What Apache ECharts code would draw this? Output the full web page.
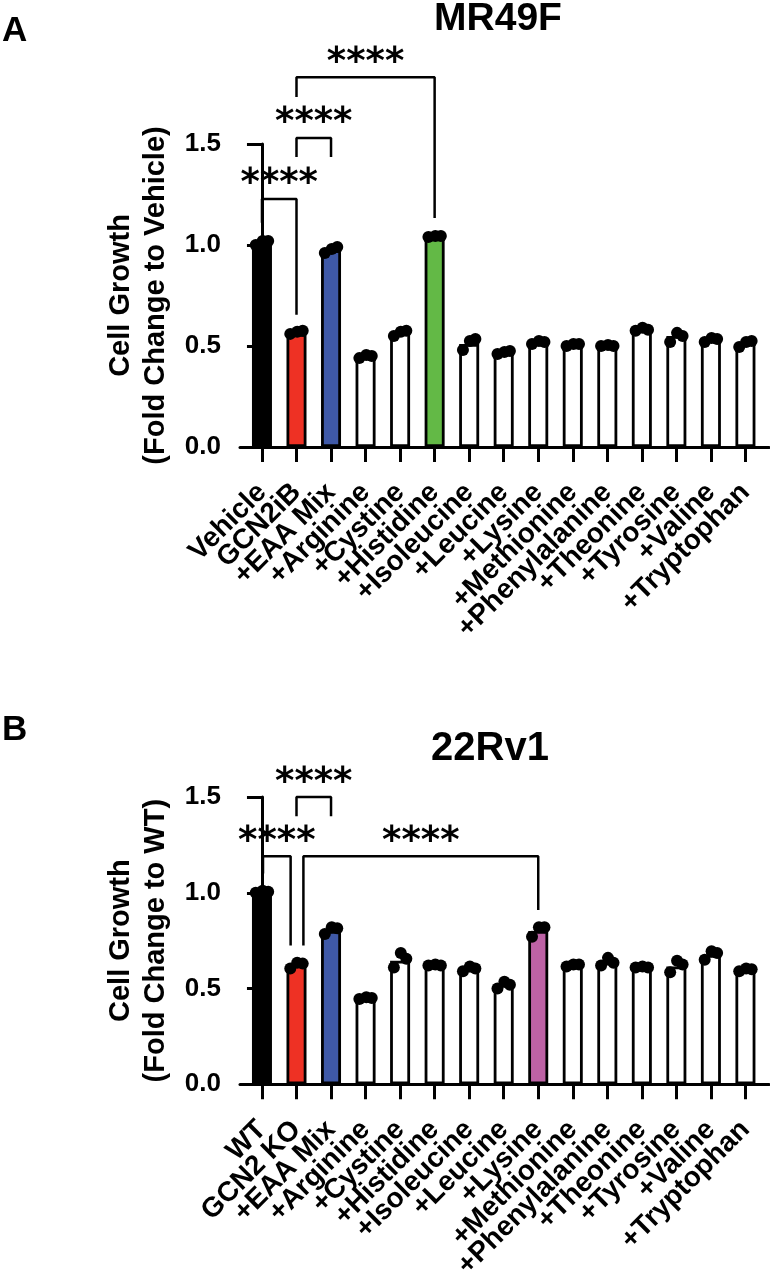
<!DOCTYPE html>
<html>
<head>
<meta charset="utf-8">
<script src="https://cdn.jsdelivr.net/npm/echarts@6/dist/echarts.min.js"></script>
<style>
html,body{margin:0;padding:0;background:#fff;}
#chart{width:770px;height:1282px;}
</style>
</head>
<body>
<div id="chart"></div>
<script>
// ---------- DATA ----------
var catsA = ['Vehicle','GCN2iB','+EAA Mix','+Arginine','+Cystine','+Histidine','+Isoleucine','+Leucine','+Lysine','+Methionine','+Phenylalanine','+Theonine','+Tyrosine','+Valine','+Tryptophan'];
var meansA = [1.00, 0.56, 0.975, 0.45, 0.565, 1.04, 0.51, 0.47, 0.52, 0.51, 0.50, 0.58, 0.55, 0.53, 0.515];
var repsA = [
  [1.00, 1.02, 1.02], [0.56, 0.57, 0.575], [0.96, 0.98, 0.99], [0.44, 0.455, 0.45],
  [0.55, 0.57, 0.575], [1.04, 1.045, 1.045], [0.48, 0.525, 0.535], [0.46, 0.47, 0.475],
  [0.51, 0.525, 0.52], [0.50, 0.51, 0.51], [0.50, 0.505, 0.50], [0.575, 0.59, 0.58],
  [0.52, 0.565, 0.55], [0.52, 0.54, 0.535], [0.495, 0.52, 0.525]
];
var colorsA = ['#000000','#EE3124','#3F59A7','#ffffff','#ffffff','#63B946','#ffffff','#ffffff','#ffffff','#ffffff','#ffffff','#ffffff','#ffffff','#ffffff','#ffffff'];
var bracketsA = [
  [[0, 1.11], [0, 1.228], [1, 1.228], [1, 0.655]],
  [[1, 1.436], [1, 1.53], [2, 1.53], [2, 1.436]],
  [[1, 1.733], [1, 1.83], [5, 1.83], [5, 1.134]]
];
var starsA = [[0.5, 1.33], [1.5, 1.63], [3, 1.93]];

var catsB = ['WT','GCN2 KO','+EAA Mix','+Arginine','+Cystine','+Histidine','+Isoleucine','+Leucine','+Lysine','+Methionine','+Phenylalanine','+Theonine','+Tyrosine','+Valine','+Tryptophan'];
var meansB = [1.00, 0.625, 0.80, 0.45, 0.645, 0.62, 0.60, 0.52, 0.80, 0.62, 0.635, 0.61, 0.615, 0.675, 0.60];
var repsB = [
  [1.00, 1.01, 1.005], [0.605, 0.635, 0.63], [0.785, 0.82, 0.815], [0.445, 0.455, 0.45],
  [0.61, 0.685, 0.655], [0.62, 0.625, 0.62], [0.59, 0.615, 0.605], [0.50, 0.535, 0.52],
  [0.77, 0.82, 0.82], [0.615, 0.625, 0.625], [0.62, 0.66, 0.635], [0.61, 0.615, 0.61],
  [0.585, 0.645, 0.625], [0.65, 0.695, 0.685], [0.59, 0.605, 0.60]
];
var colorsB = ['#000000','#EE3124','#3F59A7','#ffffff','#ffffff','#ffffff','#ffffff','#ffffff','#BD62A5','#ffffff','#ffffff','#ffffff','#ffffff','#ffffff','#ffffff'];
var bracketsB = [
  [[0.03, 1.10], [0.03, 1.19], [0.83, 1.19], [0.83, 0.725]],
  [[1.2, 0.725], [1.2, 1.19], [8, 1.19], [8, 0.91]],
  [[1, 1.40], [1, 1.50], [2, 1.50], [2, 1.40]]
];
var starsB = [[0.43, 1.295], [4.6, 1.295], [1.5, 1.60]];

var yTicks = [0, 0.5, 1.0, 1.5];

// ---------- STYLE ----------
var FONT = 'Liberation Sans, Arial, Helvetica, sans-serif';
var STARFONT = 'DejaVu Sans, Liberation Sans, sans-serif';
var jitter = [-0.18, 0.02, 0.18];
var idx = catsA.map(function (_, i) { return i; });
// padding values at both ends (empty labels) so the library's min/max label check never drops a real label
var labelVals = [-0.6].concat(idx).concat([14.65]);

function xAxisFor(gridIndex, cats) {
  return {
    type: 'value', gridIndex: gridIndex, min: -0.636, max: 14.68,
    splitLine: { show: false },
    axisLine: { show: true, lineStyle: { color: '#000', width: 3 } },
    axisTick: { show: true, customValues: idx, length: 15, lineStyle: { color: '#000', width: 3 } },
    axisLabel: {
      show: true, customValues: labelVals, rotate: 45, margin: 41,
      fontFamily: FONT, fontWeight: 'bold', fontSize: 28, lineHeight: 18, color: '#000',
      formatter: function (v) {
        var r = Math.round(v);
        return Math.abs(v - r) < 1e-6 && cats[r] ? cats[r] : '';
      }
    }
  };
}
function yAxisFor(gridIndex, name) {
  return {
    type: 'value', gridIndex: gridIndex, min: 0, max: 1.5, interval: 0.5,
    splitLine: { show: false },
    axisLine: { show: true, lineStyle: { color: '#000', width: 3 } },
    axisTick: { show: true, length: 15, lineStyle: { color: '#000', width: 3 } },
    axisLabel: {
      margin: 19, fontFamily: FONT, fontWeight: 'bold', fontSize: 26, color: '#000',
      showMinLabel: true, showMaxLabel: true,
      formatter: function (v) { return v.toFixed(1); }
    },
    name: name, nameLocation: 'middle', nameGap: 65, nameRotate: 90,
    nameTextStyle: { fontFamily: FONT, fontWeight: 'bold', fontSize: 29, color: '#000', lineHeight: 35 }
  };
}
function panelSeries(k, means, reps, colors, brackets, stars) {
  var s = [];
  s.push({
    type: 'bar', xAxisIndex: k, yAxisIndex: k, barWidth: 20, animation: false,
    data: means.map(function (v, i) {
      return { value: [i, v], itemStyle: { color: colors[i], borderColor: '#000', borderWidth: 2.8 } };
    })
  });
  var pts = [];
  reps.forEach(function (r, i) { r.forEach(function (v, j) { pts.push([i + jitter[j], v]); }); });
  s.push({
    type: 'scatter', xAxisIndex: k, yAxisIndex: k, symbolSize: 12, z: 5, animation: false, clip: false,
    itemStyle: { color: '#000', opacity: 1 }, data: pts
  });
  brackets.forEach(function (b) {
    s.push({
      type: 'line', xAxisIndex: k, yAxisIndex: k, data: b, showSymbol: false, symbol: 'none',
      clip: false, animation: false, z: 6,
      lineStyle: { color: '#000', width: 2.5, opacity: 1 }
    });
  });
  s.push({
    type: 'scatter', xAxisIndex: k, yAxisIndex: k, symbolSize: 1, clip: false, animation: false, z: 7,
    itemStyle: { color: 'rgba(0,0,0,0)', opacity: 1 },
    label: { show: true, position: 'inside', offset: [0, 6], formatter: '****', fontFamily: STARFONT, fontWeight: 'bold', fontSize: 37, color: '#000', opacity: 1, textBorderWidth: 0 },
    data: stars
  });
  return s;
}

var chart = echarts.init(document.getElementById('chart'), null, { renderer: 'canvas' });
var textStyleBig = function (t, x, y, size, align) {
  return { type: 'text', x: x, y: y, style: { text: t, fontFamily: FONT, fontWeight: 'bold', fontSize: size, fill: '#000', textAlign: align, textVerticalAlign: 'middle' } };
};
chart.setOption({
  backgroundColor: '#fff',
  animation: false,
  grid: [
    { left: 240, right: 0, top: 144, height: 303 },
    { left: 240, right: 0, top: 797, height: 300 }
  ],
  xAxis: [xAxisFor(0, catsA), xAxisFor(1, catsB)],
  yAxis: [yAxisFor(0, 'Cell Growth\n(Fold Change to Vehicle)'), yAxisFor(1, 'Cell Growth\n(Fold Change to WT)')],
  series: panelSeries(0, meansA, repsA, colorsA, bracketsA, starsA)
    .concat(panelSeries(1, meansB, repsB, colorsB, bracketsB, starsB)),
  graphic: [
    textStyleBig('A', 2, 31, 35, 'left'),
    textStyleBig('B', 2, 730, 35, 'left'),
    textStyleBig('MR49F', 498, 19, 39, 'center'),
    textStyleBig('22Rv1', 490, 749, 40, 'center')
  ]
});
</script>
</body>
</html>
